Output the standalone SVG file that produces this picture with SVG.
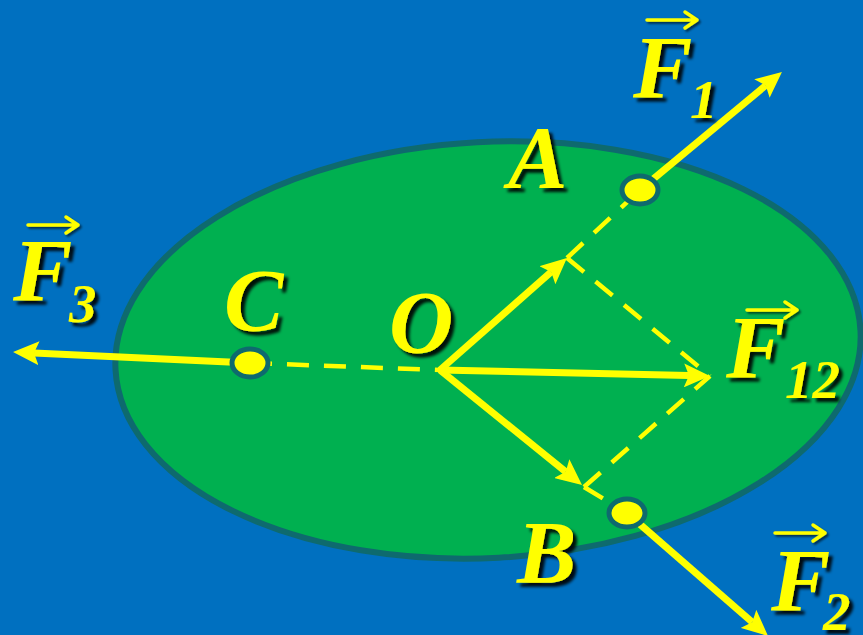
<svg xmlns="http://www.w3.org/2000/svg" width="863" height="635" viewBox="0 0 863 635">
<defs>
<style>
.lbl{font-family:"Liberation Serif","Times New Roman",serif;font-weight:bold;font-style:italic;fill:#FFFF00;filter:url(#sh)}
.big{font-size:89px}
.sub{font-size:55px}
.force{stroke:#FFFF00;stroke-width:7;fill:none;marker-end:url(#ah)}
.dash{stroke:#FFFF00;stroke-width:4.5;fill:none;stroke-dasharray:22 15}
.vec{stroke:#FFFF00;stroke-width:3.5;fill:none;stroke-linecap:round;stroke-linejoin:round;filter:url(#sh2)}
.dot{fill:#FFFF00;stroke:#0E6A6E;stroke-width:5}
</style>
<filter id="sh" x="-20%" y="-20%" width="150%" height="150%">
<feDropShadow dx="4" dy="4" stdDeviation="1.5" flood-color="#000" flood-opacity="0.9"/>
</filter>
<filter id="sh2" x="-20%" y="-100%" width="150%" height="300%">
<feDropShadow dx="2" dy="2" stdDeviation="1" flood-color="#000" flood-opacity="0.6"/>
</filter>
<marker id="ah" markerUnits="userSpaceOnUse" markerWidth="26" markerHeight="24" viewBox="0 0 26 24" refX="5" refY="12" orient="auto">
<path d="M0,0 L26,12 L0,24 L5,12 Z" fill="#FFFF00"/>
</marker>
</defs>
<rect width="863" height="635" fill="#0070C0"/>
<g id="body">
<ellipse cx="488" cy="350" rx="373" ry="208" transform="rotate(-3 488 350)" fill="#00B050" stroke="#0E6A6E" stroke-width="6"/>
</g>
<g id="connectors">
<line class="dash" x1="250" y1="363" x2="440" y2="370"/>
<line class="dash" x1="567" y1="258" x2="640" y2="190"/>
<line class="dash" x1="584" y1="487" x2="627" y2="513"/>
<line class="dash" x1="567" y1="258" x2="710" y2="376"/>
<line class="dash" x1="584" y1="487" x2="710" y2="376"/>
<line class="force" x1="640" y1="190" x2="765.8" y2="85.4"/>
<line class="force" x1="627" y1="513" x2="752.2" y2="622.2"/>
<line class="force" x1="250" y1="363" x2="34" y2="353"/>
<line class="force" x1="440" y1="370" x2="689" y2="375.5"/>
<line class="force" x1="440" y1="370" x2="551.2" y2="271.9"/>
<line class="force" x1="440" y1="370" x2="565.7" y2="471.8"/>
</g>
<g id="node-A">
<ellipse class="dot" cx="640" cy="190" rx="18" ry="14"/>
<text class="lbl big" x="508" y="187">A</text>
</g>
<g id="node-B">
<ellipse class="dot" cx="627" cy="513" rx="18" ry="14"/>
<text class="lbl big" x="517" y="582">B</text>
</g>
<g id="node-C">
<ellipse class="dot" cx="250" cy="363" rx="18" ry="14"/>
<text class="lbl big" x="224" y="330">C</text>
</g>
<g id="node-O">
<text class="lbl big" x="389" y="352">O</text>
</g>
<g id="label-F1">
<text class="lbl big" x="633" y="97">F</text>
<text class="lbl sub" x="690" y="118">1</text>
<path class="vec" d="M647,20 H697 M685,12 L697,20 L685,28"/>
</g>
<g id="label-F2">
<text class="lbl big" x="771" y="610">F</text>
<text class="lbl sub" x="823" y="630">2</text>
<path class="vec" d="M775,533 H825 M813,525 L825,533 L813,541"/>
</g>
<g id="label-F3">
<text class="lbl big" x="13" y="300">F</text>
<text class="lbl sub" x="69" y="322">3</text>
<path class="vec" d="M28,225 H78 M66,217 L78,225 L66,233"/>
</g>
<g id="label-F12">
<text class="lbl big" x="726" y="377">F</text>
<text class="lbl sub" x="785" y="398">12</text>
<path class="vec" d="M747,310 H797 M785,302 L797,310 L785,318"/>
</g>
</svg>
